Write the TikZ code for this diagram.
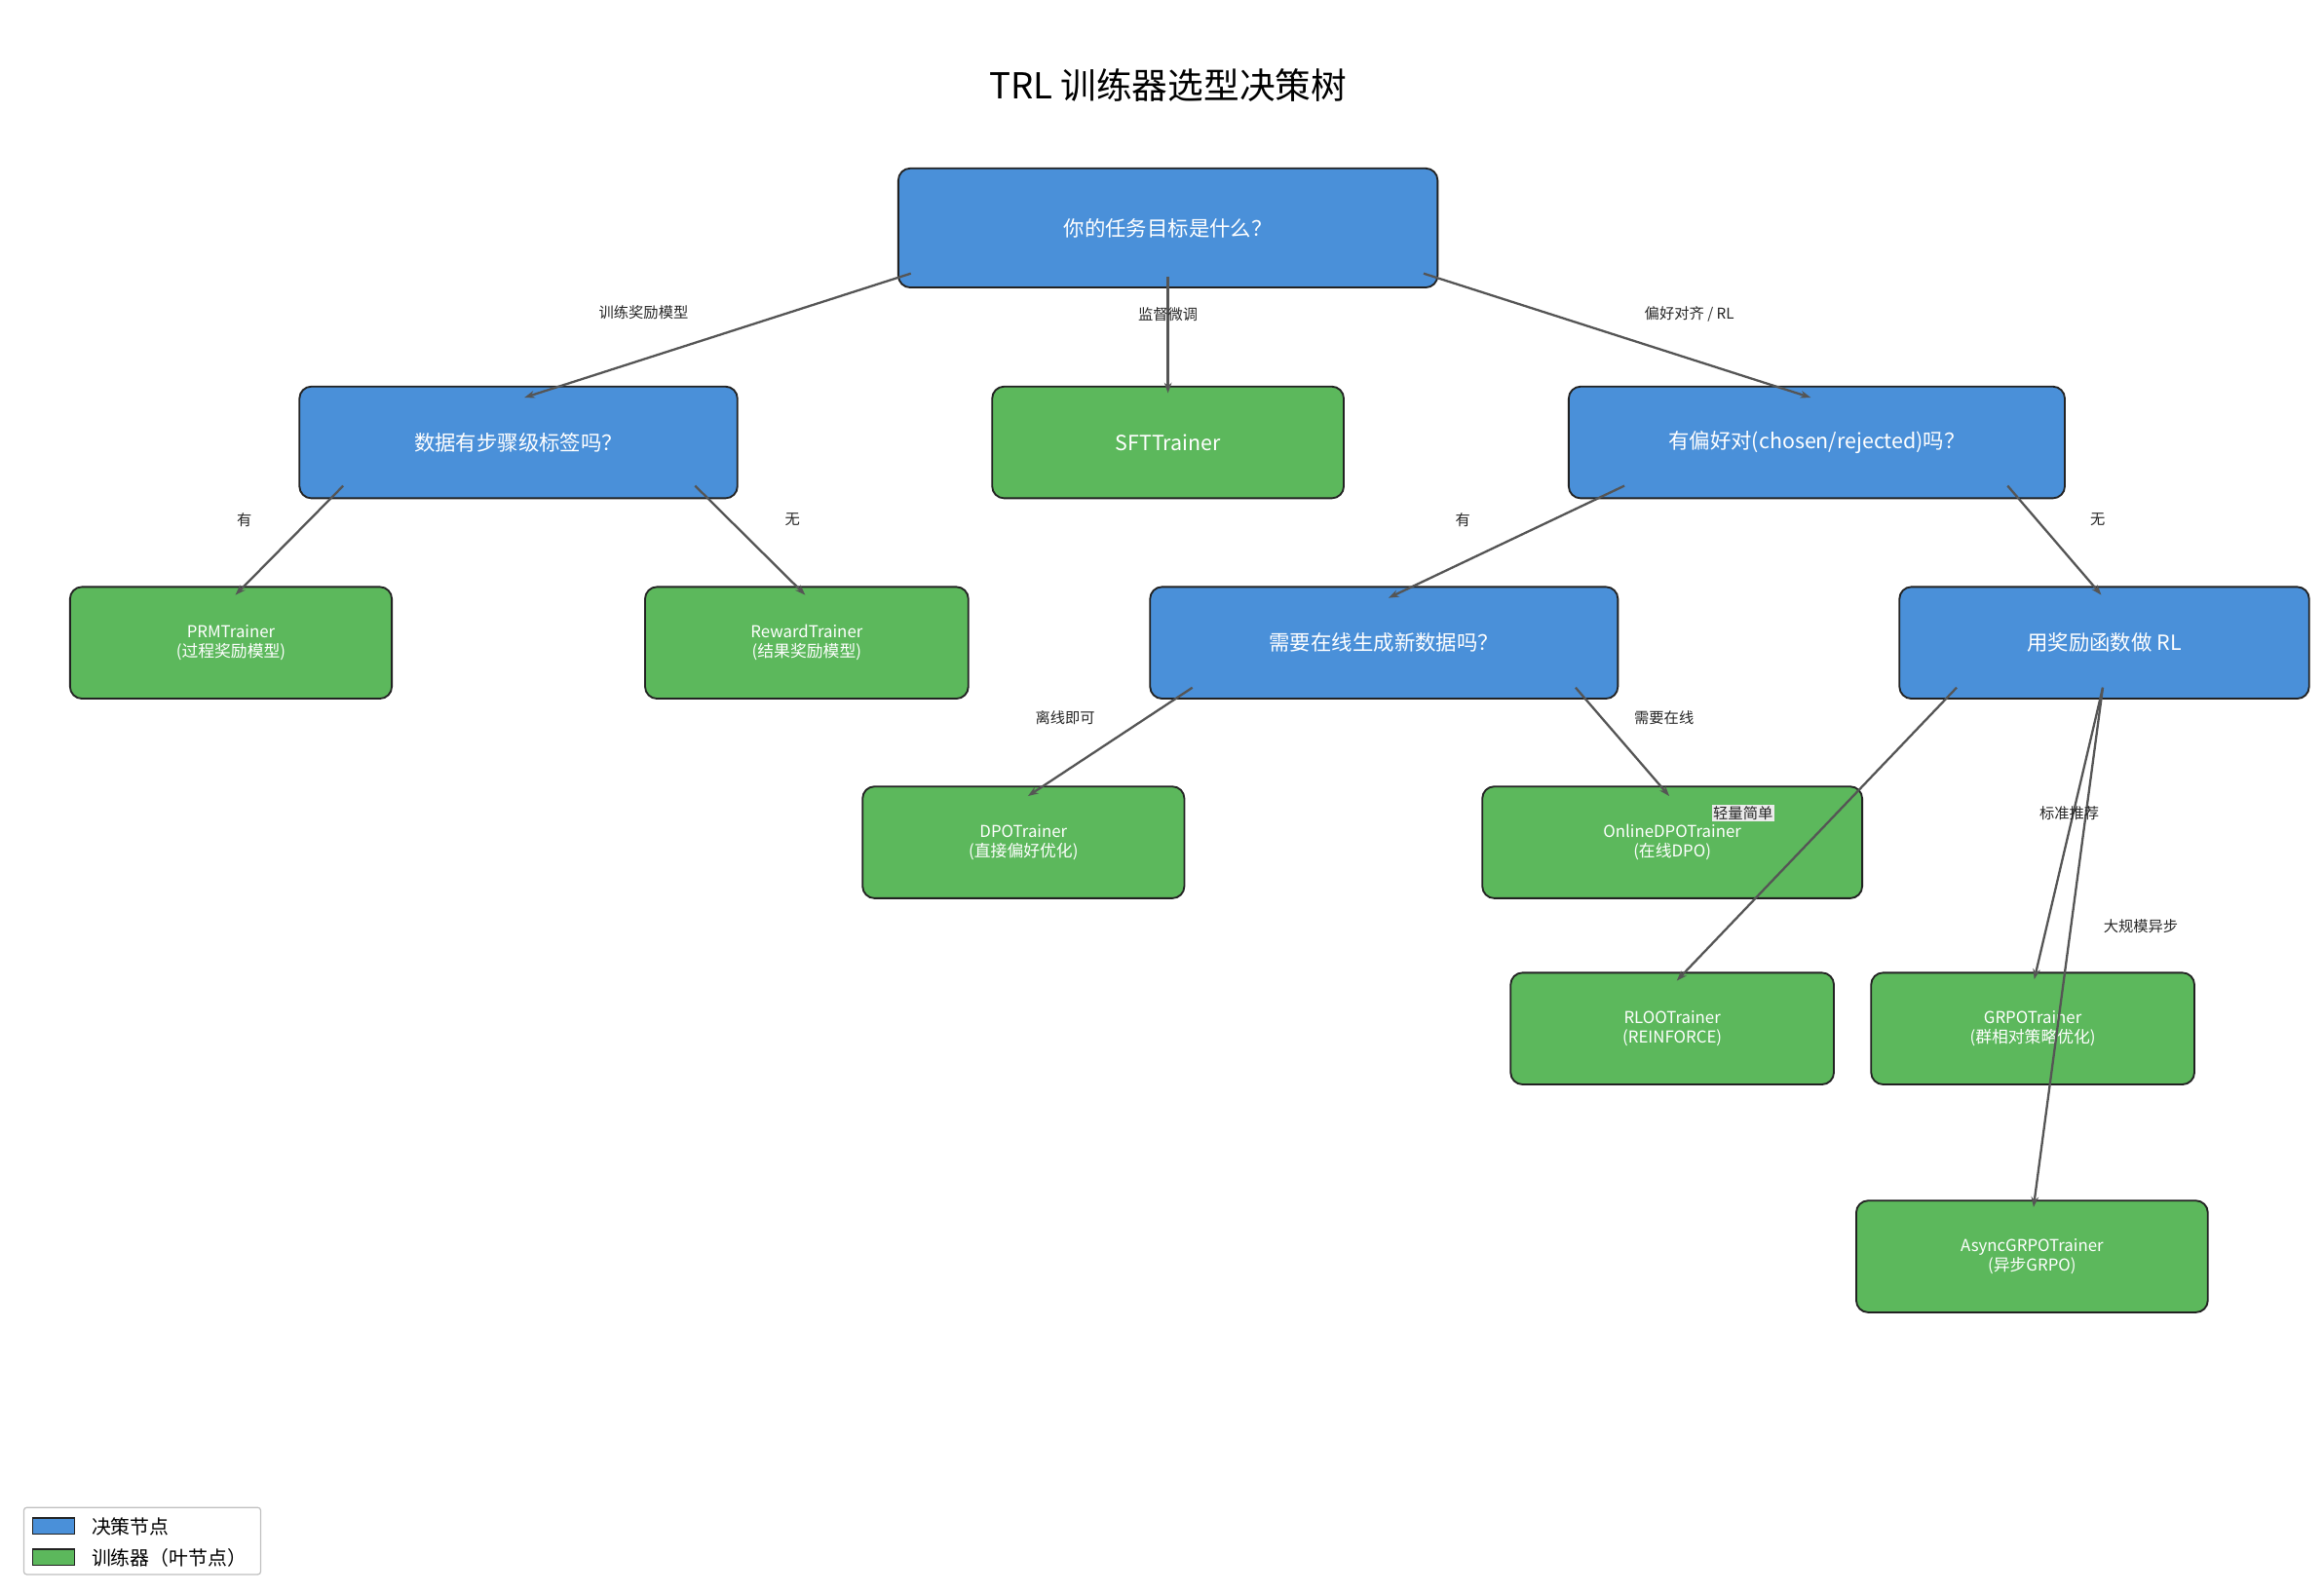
\documentclass[tikz,border=0pt]{standalone}
\usepackage{fontspec}
\setmainfont{Noto Sans CJK SC}
\usetikzlibrary{calc,arrows.meta}
\definecolor{dblue}{HTML}{4A90D9}
\definecolor{lgreen}{HTML}{5CB85C}
\definecolor{edg}{HTML}{222222}
\definecolor{arr}{HTML}{555555}
\begin{document}
\begin{tikzpicture}[x=1pt,y=-1pt,
  box/.style={draw=edg,line width=1.2pt,rounded corners=8pt,text=white,align=center,inner sep=0pt},
  dec/.style={box,fill=dblue,font=\fontsize{14}{16}\selectfont},
  leaf/.style={box,fill=lgreen,font=\fontsize{11}{13}\selectfont},
  ar/.style={draw=arr,line width=1.5pt,-{Stealth[length=7pt,width=5pt]}},
  lab/.style={font=\fontsize{10}{12}\selectfont,text=black!85}]
\useasboundingbox (0,0) rectangle (1560,1070);
\node[font=\fontsize{24}{28}\selectfont] (title) at (784,57) {TRL 训练器选型决策树};
\node[dec,minimum width=362pt,minimum height=80pt] (root) at (784,153) {你的任务目标是什么？};
\node[dec,minimum width=294pt,minimum height=75pt] (data) at (348,297) {数据有步骤级标签吗？};
\node[leaf,font=\fontsize{14}{16}\selectfont,minimum width=236pt,minimum height=75pt] (sft) at (784,297) {SFTTrainer};
\node[dec,minimum width=333pt,minimum height=75pt] (pref) at (1219.5,297) {有偏好对(chosen/rejected)吗？};
\node[leaf,minimum width=216pt,minimum height=75pt] (prm) at (155,431.5) {PRMTrainer\\(过程奖励模型)};
\node[leaf,minimum width=217pt,minimum height=75pt] (rew) at (541.5,431.5) {RewardTrainer\\(结果奖励模型)};
\node[dec,minimum width=314pt,minimum height=75pt] (onl) at (929,431.5) {需要在线生成新数据吗？};
\node[dec,minimum width=275pt,minimum height=75pt] (rfn) at (1412.5,431.5) {用奖励函数做 RL};
\node[leaf,minimum width=216pt,minimum height=75pt] (dpo) at (687,565.5) {DPOTrainer\\(直接偏好优化)};
\node[leaf,minimum width=255pt,minimum height=75pt] (odpo) at (1122.5,565.5) {OnlineDPOTrainer\\(在线DPO)};
\node[leaf,minimum width=217pt,minimum height=75pt] (rloo) at (1122.5,690.5) {RLOOTrainer\\(REINFORCE)};
\node[leaf,minimum width=217pt,minimum height=75pt] (grpo) at (1364.5,690.5) {GRPOTrainer\\(群相对策略优化)};
\node[leaf,minimum width=236pt,minimum height=75pt] (async) at (1364,843.5) {AsyncGRPOTrainer\\(异步GRPO)};

\draw[ar] ($(root.south west)+(9,-10)$) -- ($(data.north)+(4,8)$);
\draw[ar] ($(root.south)+(0,-8)$) -- ($(sft.north)+(0,5)$);
\draw[ar] ($(root.south east)+(-10,-10)$) -- ($(pref.north)+(-4,8)$);
\draw[ar] ($(data.south west)+(30,-9)$) -- ($(prm.north)+(3,6)$);
\draw[ar] ($(data.south east)+(-29,-9)$) -- ($(rew.north)+(-1,6)$);
\draw[ar] ($(pref.south west)+(38,-9)$) -- ($(onl.north)+(3,8)$);
\draw[ar] ($(pref.south east)+(-39,-9)$) -- ($(rfn.north)+(-2,6)$);
\draw[ar] ($(onl.south west)+(29,-8)$) -- ($(dpo.north)+(3,7)$);
\draw[ar] ($(onl.south east)+(-29,-8)$) -- ($(odpo.north)+(-2,7)$);
\draw[ar] ($(rfn.south west)+(39,-8)$) -- ($(rloo.north)+(3,6)$);
\draw[ar] ($(rfn.south)+(-1,-8)$) -- ($(grpo.north)+(1,5)$);
\draw[ar] ($(rfn.south)+(-1,-8)$) -- ($(async.north)+(1,5)$);

\node[lab] (l1) at (432,210) {训练奖励模型};
\node[lab] (l2) at (784,211) {监督微调};
\node[lab] (l3) at (1134,211) {偏好对齐 / RL};
\node[lab] (l4) at (164,349) {有};
\node[lab] (l5) at (532,349) {无};
\node[lab] (l6) at (982,349) {有};
\node[lab] (l7) at (1408,349) {无};
\node[lab] (l8) at (715,482) {离线即可};
\node[lab] (l9) at (1117,482) {需要在线};
\node[lab,fill=black!8,inner sep=1pt] (l10) at (1170,546) {轻量简单};
\node[lab] (l11) at (1389,546) {标准推荐};
\node[lab] (l12) at (1437,622) {大规模异步};

\draw[black!25,line width=0.8pt,rounded corners=2pt] (16,1012) rectangle (175,1057);
\draw[edg,fill=dblue,line width=0.8pt] (22,1019) rectangle (50,1030);
\draw[edg,fill=lgreen,line width=0.8pt] (22,1040) rectangle (50,1051);
\node[anchor=west,font=\fontsize{13}{15}\selectfont] (lg1) at (58,1025) {决策节点};
\node[anchor=west,font=\fontsize{13}{15}\selectfont] (lg2) at (58,1046) {训练器（叶节点）};
\end{tikzpicture}
\end{document}
